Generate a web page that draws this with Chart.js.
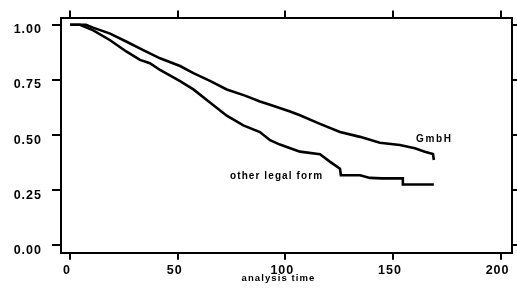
<!DOCTYPE html>
<html>
<head>
<meta charset="utf-8">
<script src="https://cdn.jsdelivr.net/npm/chart.js@4"></script>
<style>
  html, body { margin: 0; padding: 0; background: #fff; }
  canvas { display: block; }
</style>
</head>
<body>
<canvas id="kmChart" width="517" height="289"></canvas>
<script>
// Kaplan-Meier survival estimates
const gmbhTime = [0, 7.4, 10.7, 18.6, 26.3, 34.0, 41.8, 51.1, 57.3, 65.0, 72.8, 81.3, 88.2, 92.9, 102.2, 106.8, 116.1, 125.4, 134.7, 143.9, 153.2, 160.2, 164.8, 168.6, 169.0];
const gmbhSurv = [1.0, 1.0, 0.987, 0.960, 0.923, 0.885, 0.848, 0.813, 0.781, 0.746, 0.707, 0.679, 0.652, 0.638, 0.607, 0.590, 0.551, 0.514, 0.492, 0.465, 0.455, 0.440, 0.425, 0.414, 0.387];

const otherTime = [0, 4.6, 10.8, 18.6, 26.3, 32.5, 37.1, 41.8, 51.1, 57.3, 65.0, 72.8, 80.5, 88.2, 92.9, 97.5, 106.8, 116.1, 120.7, 125.4, 125.8, 134.7, 139.3, 144.9, 154.6, 154.6, 169.0];
const otherSurv = [1.0, 1.0, 0.975, 0.930, 0.878, 0.841, 0.826, 0.795, 0.745, 0.707, 0.648, 0.588, 0.544, 0.514, 0.477, 0.457, 0.425, 0.413, 0.380, 0.348, 0.318, 0.318, 0.306, 0.304, 0.304, 0.276, 0.276];

const xTicks = [0, 50, 100, 150, 200];
const yTicks = [0, 0.25, 0.5, 0.75, 1];

const toPoints = (xs, ys) => xs.map((x, i) => ({ x: x, y: ys[i] }));

const fontFamily = '"Liberation Sans", Arial, sans-serif';
const tickFont = { family: fontFamily, size: 12.5, weight: 'bold' };

const setTicks = vals => scale => { scale.ticks = vals.map(v => ({ value: v })); };

const frameGrid = len => ({ display: true, drawOnChartArea: false, drawTicks: true, tickLength: len, color: '#000', lineWidth: 2 });
const frameBorder = { display: true, color: '#000', width: 2 };

const textPlugin = {
    id: 'kmText',
    beforeDraw(chart) {
        chart.ctx.letterSpacing = '1px';
    },
    afterDraw(chart) {
        const ctx = chart.ctx;
        const xs = chart.scales.x, ys = chart.scales.y;
        ctx.save();
        ctx.fillStyle = '#000';
        ctx.textBaseline = 'middle';
        ctx.textAlign = 'left';
        ctx.letterSpacing = '1.7px';
        ctx.font = 'bold 10px ' + fontFamily;
        ctx.fillText('GmbH', xs.getPixelForValue(160.7), ys.getPixelForValue(0.483));
        ctx.letterSpacing = '1.1px';
        ctx.fillText('other legal form', xs.getPixelForValue(74.3), ys.getPixelForValue(0.313));
        ctx.font = 'bold 9.5px ' + fontFamily;
        ctx.textAlign = 'center';
        const area = chart.chartArea;
        ctx.fillText('analysis time', (area.left + area.right) / 2 - 8, 278.5);
        ctx.restore();
    }
};

const ctx = document.getElementById('kmChart').getContext('2d');
const kmChart = new Chart(ctx, {
    type: 'line',
    data: {
        datasets: [
            { label: 'GmbH', data: toPoints(gmbhTime, gmbhSurv), borderColor: '#000', borderWidth: 2.6, pointRadius: 0, tension: 0, fill: false },
            { label: 'other legal form', data: toPoints(otherTime, otherSurv), borderColor: '#000', borderWidth: 2.6, pointRadius: 0, tension: 0, fill: false }
        ]
    },
    options: {
        responsive: false,
        animation: false,
        layout: { padding: 0 },
        plugins: { legend: { display: false }, tooltip: { enabled: false } },
        scales: {
            x: {
                type: 'linear', position: 'bottom', min: -4.2, max: 205.3,
                afterBuildTicks: setTicks(xTicks),
                afterFit: s => { s.height = 36.3; },
                grid: frameGrid(7), border: frameBorder,
                ticks: { font: tickFont, color: '#000', padding: 3, labelOffset: -3, maxRotation: 0, autoSkip: false }
            },
            x2: {
                type: 'linear', position: 'top', min: -4.2, max: 205.3,
                afterBuildTicks: setTicks(xTicks),
                afterFit: s => { s.height = 13.5; },
                grid: frameGrid(7), border: frameBorder,
                ticks: { display: false }
            },
            y: {
                type: 'linear', position: 'left', min: -0.033, max: 1.033,
                afterBuildTicks: setTicks(yTicks),
                afterFit: s => { s.width = 61; },
                grid: frameGrid(9), border: frameBorder,
                ticks: { font: tickFont, color: '#000', padding: 10, labelOffset: 5, autoSkip: false, callback: v => v.toFixed(2) }
            },
            y2: {
                type: 'linear', position: 'right', min: -0.033, max: 1.033,
                afterBuildTicks: setTicks(yTicks),
                afterFit: s => { s.width = 5; },
                grid: frameGrid(5), border: frameBorder,
                ticks: { display: false }
            }
        }
    },
    plugins: [textPlugin]
});
</script>
</body>
</html>
